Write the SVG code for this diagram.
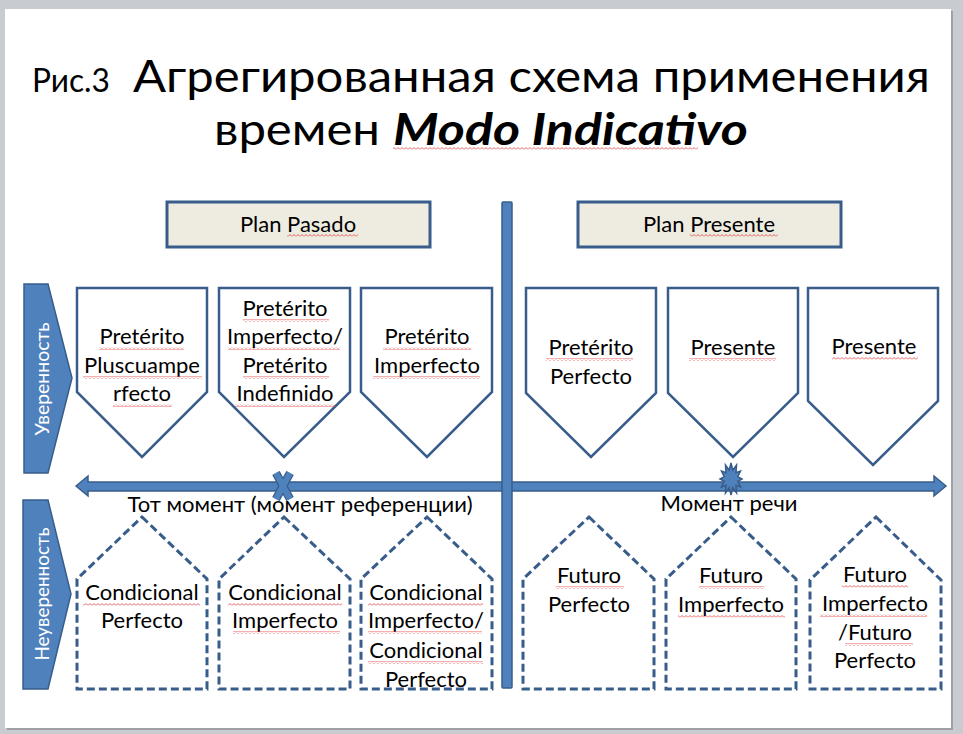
<svg xmlns="http://www.w3.org/2000/svg" width="963" height="734" viewBox="0 0 963 734">
<style>
.bg{fill:#c8cbd0}
.slide{fill:#ffffff}
.hdr{fill:#eeece1;stroke:#385d8a;stroke-width:3}
.solid{fill:#ffffff;stroke:#385d8a;stroke-width:2.5;stroke-linejoin:miter}
.dash{fill:#ffffff;stroke:#385d8a;stroke-width:3;stroke-dasharray:8 4}
.blue{fill:#4f81bd;stroke:#385d8a;stroke-width:1.5}
.t{font-family:Lato,"Open Sans","Liberation Sans",sans-serif;fill:#000000}
.lbl{font-size:22px;text-anchor:middle}
.side{font-size:20px;text-anchor:middle;fill:#ffffff}
.sp{fill:url(#wavy)}
</style>
<defs>
<pattern id="wavy" patternUnits="userSpaceOnUse" width="4" height="3">
<path d="M0,2.5 L2,0.5 L4,2.5" fill="none" stroke="#e03a3a" stroke-width="0.8"/>
</pattern>
</defs>
<rect class="bg" x="0" y="0" width="963" height="734"/>
<rect x="7" y="11" width="946" height="719" fill="#9da0a5"/>
<rect class="slide" x="5" y="9" width="946" height="719"/>

<g id="title">
<text class="t" x="32" y="92" font-size="32" textLength="78" lengthAdjust="spacingAndGlyphs">Рис.3</text>
<text class="t" x="133" y="92" font-size="44" textLength="797" lengthAdjust="spacingAndGlyphs">Агрегированная схема применения</text>
<text class="t" x="214" y="145" font-size="44" textLength="166" lengthAdjust="spacingAndGlyphs">времен</text>
<text class="t" x="393" y="145" font-size="44" font-weight="bold" font-style="italic" textLength="355" lengthAdjust="spacingAndGlyphs">Modo Indicativo</text>
<rect class="sp" x="393" y="147" width="305" height="3"/>
</g>

<g id="plan-pasado">
<rect class="hdr" x="167" y="202" width="263" height="45"/>
<text class="t lbl" x="298" y="232">Plan Pasado</text>
<rect class="sp" x="287" y="234" width="71" height="3"/>
</g>
<g id="plan-presente">
<rect class="hdr" x="578" y="202" width="263" height="45"/>
<text class="t lbl" x="709" y="232">Plan Presente</text>
<rect class="sp" x="690" y="234" width="88" height="3"/>
</g>

<g id="label-certainty">
<polygon class="blue" points="24,284 48,284 72,378 48,473 24,473"/>
<text class="t side" transform="translate(49,379) rotate(-90)" textLength="113" lengthAdjust="spacingAndGlyphs">Уверенность</text>
</g>
<g id="label-uncertainty">
<polygon class="blue" points="23,500 48,500 71,594 48,689 23,689"/>
<text class="t side" transform="translate(49,594) rotate(-90)" textLength="133" lengthAdjust="spacingAndGlyphs">Неуверенность</text>
</g>

<g id="connectors">
<polygon class="blue" points="76,486 88,476 88,482 934,482 934,476 946,486 934,496 934,491 88,491 88,496"/>
<rect class="blue" x="502" y="202" width="10" height="486" rx="1"/>
<g id="marker-x">
<line x1="276" y1="473" x2="290" y2="499" stroke="#385d8a" stroke-width="8.5"/>
<line x1="290" y1="473" x2="276" y2="499" stroke="#385d8a" stroke-width="8.5"/>
<line x1="276" y1="473" x2="290" y2="499" stroke="#4f81bd" stroke-width="6"/>
<line x1="290" y1="473" x2="276" y2="499" stroke="#4f81bd" stroke-width="6"/>
</g>
<polygon id="marker-star" class="blue" points="742,479 737.8,481.3 740.5,487 736,485.4 736.5,492.9 732.8,487.7 731,495 729.2,487.7 725.5,492.9 726,485.4 721.5,487 724.2,481.3 720,479 724.2,476.7 721.5,471 726,472.6 725.5,465.1 729.2,470.3 731,463 732.8,470.3 736.5,465.1 736,472.6 740.5,471 737.8,476.7"/>
<text class="t lbl" x="300" y="512">Тот момент (момент референции)</text>
<text class="t lbl" x="729" y="511">Момент речи</text>
</g>

<g id="n-pluscuamperfecto">
<polygon class="solid" points="77,288 207,288 207,392 142,457 77,392"/>
<text class="t lbl" x="142" y="344">Pretérito</text>
<text class="t lbl" x="142" y="373">Pluscuampe</text>
<text class="t lbl" x="142" y="401">rfecto</text>
<rect class="sp" x="99" y="347" width="85" height="3"/>
<rect class="sp" x="83" y="376" width="119" height="3"/>
<rect class="sp" x="113" y="404" width="59" height="3"/>
</g>
<g id="n-imperf-indef">
<polygon class="solid" points="219,288 350,288 350,392 284,457 219,392"/>
<text class="t lbl" x="285" y="316">Pretérito</text>
<text class="t lbl" x="285" y="344">Imperfecto/</text>
<text class="t lbl" x="285" y="373">Pretérito</text>
<text class="t lbl" x="285" y="401">Indefinido</text>
<rect class="sp" x="243" y="319" width="86" height="3"/>
<rect class="sp" x="228" y="347" width="112" height="3"/>
<rect class="sp" x="243" y="376" width="86" height="3"/>
<rect class="sp" x="235" y="404" width="101" height="3"/>
</g>
<g id="n-imperfecto">
<polygon class="solid" points="361,288 492,288 492,392 427,457 361,392"/>
<text class="t lbl" x="427" y="344">Pretérito</text>
<text class="t lbl" x="427" y="373">Imperfecto</text>
<rect class="sp" x="383" y="347" width="88" height="3"/>
<rect class="sp" x="373" y="376" width="107" height="3"/>
</g>
<g id="n-perfecto">
<polygon class="solid" points="526,288 656,288 656,393 591,457 526,393"/>
<text class="t lbl" x="591" y="355">Pretérito</text>
<text class="t lbl" x="591" y="384">Perfecto</text>
<rect class="sp" x="546" y="358" width="87" height="3"/>
</g>
<g id="n-presente-1">
<polygon class="solid" points="668,288 798,288 798,393 733,457 668,393"/>
<text class="t lbl" x="733" y="355">Presente</text>
<rect class="sp" x="689" y="358" width="87" height="3"/>
</g>
<g id="n-presente-2">
<polygon class="solid" points="808,288 938,288 938,401 873,465 808,401"/>
<text class="t lbl" x="874" y="354">Presente</text>
<rect class="sp" x="832" y="357" width="86" height="3"/>
</g>

<g id="n-cond-perfecto">
<polygon class="dash" points="142,517 207,579 207,689 77,689 77,579"/>
<text class="t lbl" x="142" y="600">Condicional</text>
<text class="t lbl" x="142" y="628">Perfecto</text>
<rect class="sp" x="83" y="603" width="117" height="3"/>
</g>
<g id="n-cond-imperfecto">
<polygon class="dash" points="284,517 350,579 350,689 219,689 219,579"/>
<text class="t lbl" x="285" y="600">Condicional</text>
<text class="t lbl" x="285" y="628">Imperfecto</text>
<rect class="sp" x="228" y="603" width="114" height="3"/>
<rect class="sp" x="233" y="631" width="107" height="3"/>
</g>
<g id="n-cond-imperf-perf">
<polygon class="dash" points="427,517 492,579 492,689 361,689 361,579"/>
<text class="t lbl" x="426" y="600">Condicional</text>
<text class="t lbl" x="426" y="628">Imperfecto/</text>
<text class="t lbl" x="426" y="658">Condicional</text>
<text class="t lbl" x="426" y="687">Perfecto</text>
<rect class="sp" x="368" y="603" width="115" height="3"/>
<rect class="sp" x="368" y="631" width="114" height="3"/>
<rect class="sp" x="368" y="661" width="115" height="3"/>
</g>
<g id="n-fut-perfecto">
<polygon class="dash" points="589,517 654,579 654,689 523,689 523,579"/>
<text class="t lbl" x="589" y="583">Futuro</text>
<text class="t lbl" x="589" y="612">Perfecto</text>
<rect class="sp" x="556" y="586" width="68" height="3"/>
</g>
<g id="n-fut-imperfecto">
<polygon class="dash" points="731,517 796,579 796,689 666,689 666,579"/>
<text class="t lbl" x="731" y="583">Futuro</text>
<text class="t lbl" x="731" y="612">Imperfecto</text>
<rect class="sp" x="699" y="586" width="65" height="3"/>
<rect class="sp" x="678" y="615" width="107" height="3"/>
</g>
<g id="n-fut-imperf-perf">
<polygon class="dash" points="876,517 941,580 941,689 810,689 810,580"/>
<text class="t lbl" x="875" y="582">Futuro</text>
<text class="t lbl" x="875" y="611">Imperfecto</text>
<text class="t lbl" x="875" y="640">/Futuro</text>
<text class="t lbl" x="875" y="668">Perfecto</text>
<rect class="sp" x="842" y="585" width="66" height="3"/>
<rect class="sp" x="820" y="614" width="107" height="3"/>
<rect class="sp" x="845" y="643" width="68" height="3"/>
</g>
</svg>
